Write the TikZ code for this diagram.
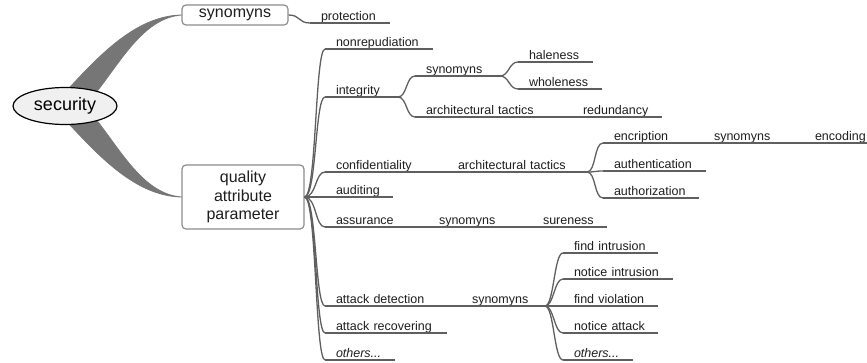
\documentclass[tikz,border=0pt]{standalone}
\usepackage{fontspec}
\setmainfont{Liberation Sans}
\usepackage{tikz}
\usetikzlibrary{positioning, shapes.geometric, backgrounds}
\definecolor{linegray}{RGB}{95,95,95}
\definecolor{boxgray}{RGB}{140,140,140}
\definecolor{wedgegray}{RGB}{118,118,118}
\definecolor{inkgray}{RGB}{30,30,30}

\begin{document}
\begin{tikzpicture}[
        x=1pt, y=-1pt,
        branch/.style={draw=linegray, line width=1.3pt},
        wedge/.style={fill=wedgegray, draw=wedgegray, line width=0.8pt, line join=round},
        box/.style={rectangle, rounded corners=4pt, draw=boxgray, line width=1.2pt,
                    align=center, text=inkgray, inner sep=0pt},
        leaf/.style={anchor=south west, inner xsep=11pt, inner ysep=1pt, outer sep=0pt,
                     text height=9pt, text depth=2pt, text width=#1, align=left,
                     text=inkgray, font=\fontsize{12.5}{14}\selectfont},
      ]
      \useasboundingbox (0,0) rectangle (867,362);
      \node[ellipse, draw=black, fill=gray!12, line width=1.2pt, minimum width=104pt,
            minimum height=37pt, inner sep=0pt, font=\fontsize{18}{20}\selectfont]
            (sec) at (65,106) {security};
      \node[box, minimum width=106pt, minimum height=20pt, font=\fontsize{16}{18}\selectfont]
            (syn) at (235,15) {synomyns};
      \node[box, minimum width=122pt, minimum height=64pt, font=\fontsize{16}{18.5}\selectfont]
            (qap) at (243,197) {quality\\attribute\\parameter};

      % first level
      \node[leaf=58pt] (prot) at (310,23) {protection};
      \node[leaf=86pt] (nonrep) at (325,49) {nonrepudiation};
      \node[leaf=51pt] (integ) at (325,97) {integrity};
      \node[leaf=100pt] (conf) at (325,172) {confidentiality};
      \node[leaf=46pt] (audit) at (325,197) {auditing};
      \node[leaf=81pt] (assur) at (325,227) {assurance};
      \node[leaf=114pt] (attdet) at (325,306) {attack detection};
      \node[leaf=100pt] (attrec) at (325,333) {attack recovering};
      \node[leaf=48pt] (othl) at (325,360) {\textit{others...}};

      % integrity
      \node[leaf=63pt] (intsyn) at (415,76) {synomyns};
      \node[leaf=53pt] (hale) at (518,62) {haleness};
      \node[leaf=62pt] (whole) at (518,89) {wholeness};
      \node[leaf=135pt] (intarch) at (415,117) {architectural tactics};
      \node[leaf=68pt, right=0pt of intarch] (redund) {redundancy};

      % confidentiality
      \node[leaf=118pt, right=0pt of conf] (confarch) {architectural tactics};
      \node[leaf=78pt] (encr) at (603,143) {encription};
      \node[leaf=79pt, right=0pt of encr] (encsyn) {synomyns};
      \node[leaf=58pt, right=0pt of encsyn] (encod) {encoding};
      \node[leaf=81pt] (authen) at (603,171) {authentication};
      \node[leaf=74pt] (author) at (603,198) {authorization};

      % assurance
      \node[leaf=82pt, right=0pt of assur] (assyn) {synomyns};
      \node[leaf=53pt, right=0pt of assyn] (sure) {sureness};

      % attack detection
      \node[leaf=62pt, right=0pt of attdet] (detsyn) {synomyns};
      \node[leaf=73pt] (findin) at (563,253) {find intrusion};
      \node[leaf=88pt] (notin) at (563,279) {notice intrusion};
      \node[leaf=73pt] (findviol) at (563,306) {find violation};
      \node[leaf=73pt] (notatt) at (563,333) {notice attack};
      \node[leaf=48pt] (othr) at (563,360) {\textit{others...}};

      \foreach \n in {prot,nonrep,integ,conf,audit,assur,attdet,attrec,othl,
                      intsyn,hale,whole,intarch,redund,confarch,encr,encsyn,encod,
                      authen,author,assyn,sure,detsyn,findin,notin,findviol,notatt,othr}
        \draw[branch] (\n.south west) -- (\n.south east);

      \foreach \n in {nonrep,integ,conf,audit,assur,attdet,attrec,othl}
        \draw[branch] (qap.east) .. controls +(12,0) and +(-10,0) .. (\n.south west);
      \draw[branch] (syn.east) .. controls +(12,0) and +(-12,0) .. (prot.south west);
      \foreach \a/\b in {integ/intsyn, integ/intarch, intsyn/hale, intsyn/whole,
                         confarch/encr, confarch/authen, confarch/author,
                         detsyn/findin, detsyn/notin, detsyn/findviol, detsyn/notatt, detsyn/othr}
        \draw[branch] (\a.south east) .. controls +(9,0) and +(-9,0) .. (\b.south west);

      \begin{scope}[on background layer]
        \filldraw[wedge] (sec.75) .. controls +(35,-38) and +(-42,1) .. (syn.west)
          .. controls +(-37,3) and +(25,-32) .. (sec.25) -- cycle;
        \filldraw[wedge] (sec.-75) .. controls +(35,38) and +(-42,-1) .. (qap.west)
          .. controls +(-37,-3) and +(25,32) .. (sec.-25) -- cycle;
      \end{scope}
    \end{tikzpicture}
\end{document}
